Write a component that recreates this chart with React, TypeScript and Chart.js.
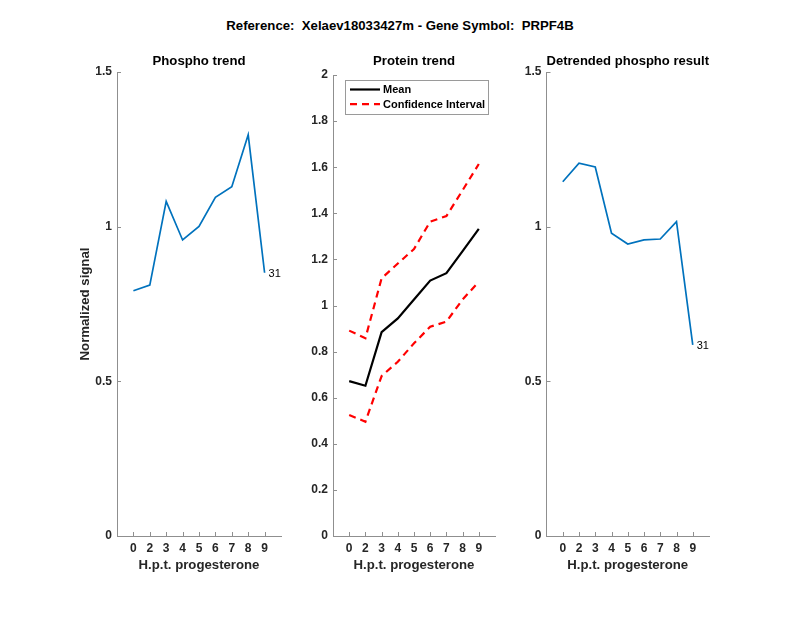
import React, { useEffect, useRef } from 'react';
import { Chart, registerables } from 'chart.js';

Chart.register(...registerables);

// ---------- data ----------
const HOURS = ['0', '2', '3', '4', '5', '6', '7', '8', '9'];
const PHOSPHO = [0.793, 0.811, 1.082, 0.957, 1.001, 1.095, 1.129, 1.297, 0.851];
const PROTEIN_MEAN = [0.672, 0.652, 0.884, 0.944, 1.026, 1.108, 1.14, 1.236, 1.332];
const PROTEIN_UPPER = [0.891, 0.858, 1.118, 1.182, 1.245, 1.364, 1.388, 1.5, 1.614];
const PROTEIN_LOWER = [0.525, 0.496, 0.694, 0.756, 0.836, 0.908, 0.93, 1.026, 1.103];
const DETRENDED = [1.145, 1.205, 1.193, 0.979, 0.944, 0.957, 0.96, 1.016, 0.618];
const PEPTIDE_ID = '31';
const MAIN_TITLE = 'Reference:  Xelaev18033427m - Gene Symbol:  PRPF4B';
const PANEL_TITLES = ['Phospho trend', 'Protein trend', 'Detrended phospho result'];
const X_LABEL = 'H.p.t. progesterone';
const Y_LABEL = 'Normalized signal';
const LEGEND_LABELS = ['Mean', 'Confidence Interval'];

// ---------- style ----------
const FONT = '"Liberation Sans", Arial, Helvetica, sans-serif';
const AXIS_COLOR = '#8f8f8f';
const TICK_COLOR = '#262626';
const BLUE = '#0072BD';

const pts = (arr: number[]) => arr.map((v, i) => ({ x: i + 1, y: v }));

function inwardTicks() {
  return {
    id: 'inwardTicks',
    afterDraw(chart: any) {
      const { ctx, chartArea, scales } = chart;
      ctx.save();
      ctx.strokeStyle = AXIS_COLOR;
      ctx.lineWidth = 1;
      scales.x.ticks.forEach((t: any) => {
        const px = Math.round(scales.x.getPixelForValue(t.value)) + 0.5;
        ctx.beginPath();
        ctx.moveTo(px, chartArea.bottom);
        ctx.lineTo(px, chartArea.bottom - 4);
        ctx.stroke();
      });
      scales.y.ticks.forEach((t: any) => {
        const py = Math.round(scales.y.getPixelForValue(t.value)) + 0.5;
        ctx.beginPath();
        ctx.moveTo(chartArea.left, py);
        ctx.lineTo(chartArea.left + 4, py);
        ctx.stroke();
      });
      ctx.restore();
    },
  };
}

function endLabel(text: string) {
  return {
    id: 'endLabel',
    afterDatasetsDraw(chart: any) {
      const meta = chart.getDatasetMeta(0);
      const pt = meta.data[meta.data.length - 1];
      const ctx = chart.ctx;
      ctx.save();
      ctx.font = `11px ${FONT}`;
      ctx.fillStyle = '#000';
      ctx.textAlign = 'left';
      ctx.textBaseline = 'middle';
      ctx.fillText(text, pt.x + 4, pt.y + 1.5);
      ctx.restore();
    },
  };
}

function boxLegend() {
  return {
    id: 'boxLegend',
    afterDraw(chart: any) {
      const { ctx, chartArea } = chart;
      const x = chartArea.left + 12;
      const y = chartArea.top + 4.5;
      const w = 143;
      const h = 34;
      ctx.save();
      ctx.fillStyle = '#fff';
      ctx.fillRect(x, y, w, h);
      ctx.strokeStyle = '#9a9a9a';
      ctx.lineWidth = 1;
      ctx.strokeRect(Math.round(x) + 0.5, Math.round(y) + 0.5, w, h);
      const entries = [chart.data.datasets[0], chart.data.datasets[1]];
      entries.forEach((ds: any, i: number) => {
        const cy = y + 10 + i * 14.6;
        ctx.strokeStyle = ds.borderColor;
        ctx.lineWidth = ds.borderWidth;
        ctx.setLineDash(ds.borderDash || []);
        ctx.beginPath();
        ctx.moveTo(x + 5, cy);
        ctx.lineTo(x + 35, cy);
        ctx.stroke();
        ctx.setLineDash([]);
        ctx.fillStyle = '#000';
        ctx.font = `bold 11px ${FONT}`;
        ctx.textAlign = 'left';
        ctx.textBaseline = 'middle';
        ctx.fillText(LEGEND_LABELS[i], x + 38, cy + 0.5);
      });
      ctx.restore();
    },
  };
}

interface PanelSpec {
  padLeft: number;
  padRight: number;
  yWidth: number;
  titleBottom: number;
  yMax: number;
  yStep: number;
  title: string;
  yTitle?: string;
}

function buildOptions(p: PanelSpec): any {
  return {
    responsive: false,
    animation: false,
    events: [],
    layout: { padding: { left: p.padLeft, right: p.padRight, top: 53.1, bottom: 45.1 } },
    plugins: {
      legend: { display: false },
      tooltip: { enabled: false },
      title: {
        display: true,
        text: p.title,
        fullSize: false,
        color: '#000',
        font: { family: FONT, size: 13.2, weight: 'bold', lineHeight: 1.2 },
        padding: { top: 0, bottom: p.titleBottom },
      },
    },
    elements: { point: { radius: 0 }, line: { tension: 0 } },
    scales: {
      x: {
        type: 'linear',
        min: 0,
        max: 10,
        afterBuildTicks: (s: any) => {
          s.ticks = HOURS.map((_, i) => ({ value: i + 1 }));
        },
        afterFit: (s: any) => {
          s.height = 36.9;
        },
        grid: { display: false, drawTicks: false, tickLength: 0 },
        border: { display: true, color: AXIS_COLOR, width: 1 },
        ticks: {
          autoSkip: false,
          maxRotation: 0,
          padding: 5,
          color: TICK_COLOR,
          font: { family: FONT, size: 12, weight: 'bold' },
          callback: (v: number) => HOURS[Math.round(v) - 1] ?? '',
        },
        title: {
          display: true,
          text: X_LABEL,
          color: TICK_COLOR,
          padding: 0,
          font: { family: FONT, size: 13.2, weight: 'bold', lineHeight: 1.2 },
        },
      },
      y: {
        min: 0,
        max: p.yMax,
        afterFit: (s: any) => {
          s.width = p.yWidth;
        },
        grid: { display: false, drawTicks: false, tickLength: 0 },
        border: { display: true, color: AXIS_COLOR, width: 1 },
        ticks: {
          stepSize: p.yStep,
          padding: 5,
          color: TICK_COLOR,
          font: { family: FONT, size: 12, weight: 'bold' },
          callback: (v: number) => String(+Number(v).toFixed(2)),
        },
        title: {
          display: !!p.yTitle,
          text: p.yTitle || '',
          color: TICK_COLOR,
          padding: 0,
          font: { family: FONT, size: 13.2, weight: 'bold', lineHeight: 1.2 },
        },
      },
    },
  };
}

export default function App() {
  const r1 = useRef<HTMLCanvasElement>(null);
  const r2 = useRef<HTMLCanvasElement>(null);
  const r3 = useRef<HTMLCanvasElement>(null);

  useEffect(() => {
    const c1 = new Chart(r1.current as HTMLCanvasElement, {
      type: 'line',
      data: {
        datasets: [
          { label: 'Phospho', data: pts(PHOSPHO), borderColor: BLUE, borderWidth: 1.7, fill: false },
        ],
      },
      options: buildOptions({
        padLeft: 77.1, padRight: 519, yWidth: 39.9, titleBottom: 3.06,
        yMax: 1.5, yStep: 0.5, title: PANEL_TITLES[0], yTitle: Y_LABEL,
      }),
      plugins: [inwardTicks(), endLabel(PEPTIDE_ID)],
    } as any);

    const c2 = new Chart(r2.current as HTMLCanvasElement, {
      type: 'line',
      data: {
        datasets: [
          { label: LEGEND_LABELS[0], data: pts(PROTEIN_MEAN), borderColor: '#000', borderWidth: 2.2, fill: false },
          { label: LEGEND_LABELS[1], data: pts(PROTEIN_UPPER), borderColor: '#ff0000', borderWidth: 2.2, borderDash: [7, 5], fill: false },
          { label: '', data: pts(PROTEIN_LOWER), borderColor: '#ff0000', borderWidth: 2.2, borderDash: [7, 5], fill: false },
        ],
      },
      options: buildOptions({
        padLeft: 293, padRight: 305, yWidth: 40, titleBottom: 6.06,
        yMax: 2, yStep: 0.2, title: PANEL_TITLES[1],
      }),
      plugins: [inwardTicks(), boxLegend()],
    } as any);

    const c3 = new Chart(r3.current as HTMLCanvasElement, {
      type: 'line',
      data: {
        datasets: [
          { label: 'Detrended', data: pts(DETRENDED), borderColor: BLUE, borderWidth: 1.7, fill: false },
        ],
      },
      options: buildOptions({
        padLeft: 506.5, padRight: 91, yWidth: 40, titleBottom: 3.06,
        yMax: 1.5, yStep: 0.5, title: PANEL_TITLES[2],
      }),
      plugins: [inwardTicks(), endLabel(PEPTIDE_ID)],
    } as any);

    return () => {
      c1.destroy();
      c2.destroy();
      c3.destroy();
    };
  }, []);

  const canvasStyle: React.CSSProperties = { position: 'absolute', left: 0, top: 0, width: 800, height: 618 };

  return (
    <div style={{ position: 'absolute', left: 0, top: 0, width: 800, height: 618, background: '#fff', overflow: 'hidden' }}>
      <div
        style={{
          position: 'absolute', left: 0, top: 18, width: 800, textAlign: 'center',
          font: `bold 13.2px ${FONT}`, lineHeight: '16px', color: '#000', whiteSpace: 'pre',
        }}
      >
        {MAIN_TITLE}
      </div>
      <canvas ref={r1} width={800} height={618} style={canvasStyle} />
      <canvas ref={r2} width={800} height={618} style={canvasStyle} />
      <canvas ref={r3} width={800} height={618} style={canvasStyle} />
    </div>
  );
}
